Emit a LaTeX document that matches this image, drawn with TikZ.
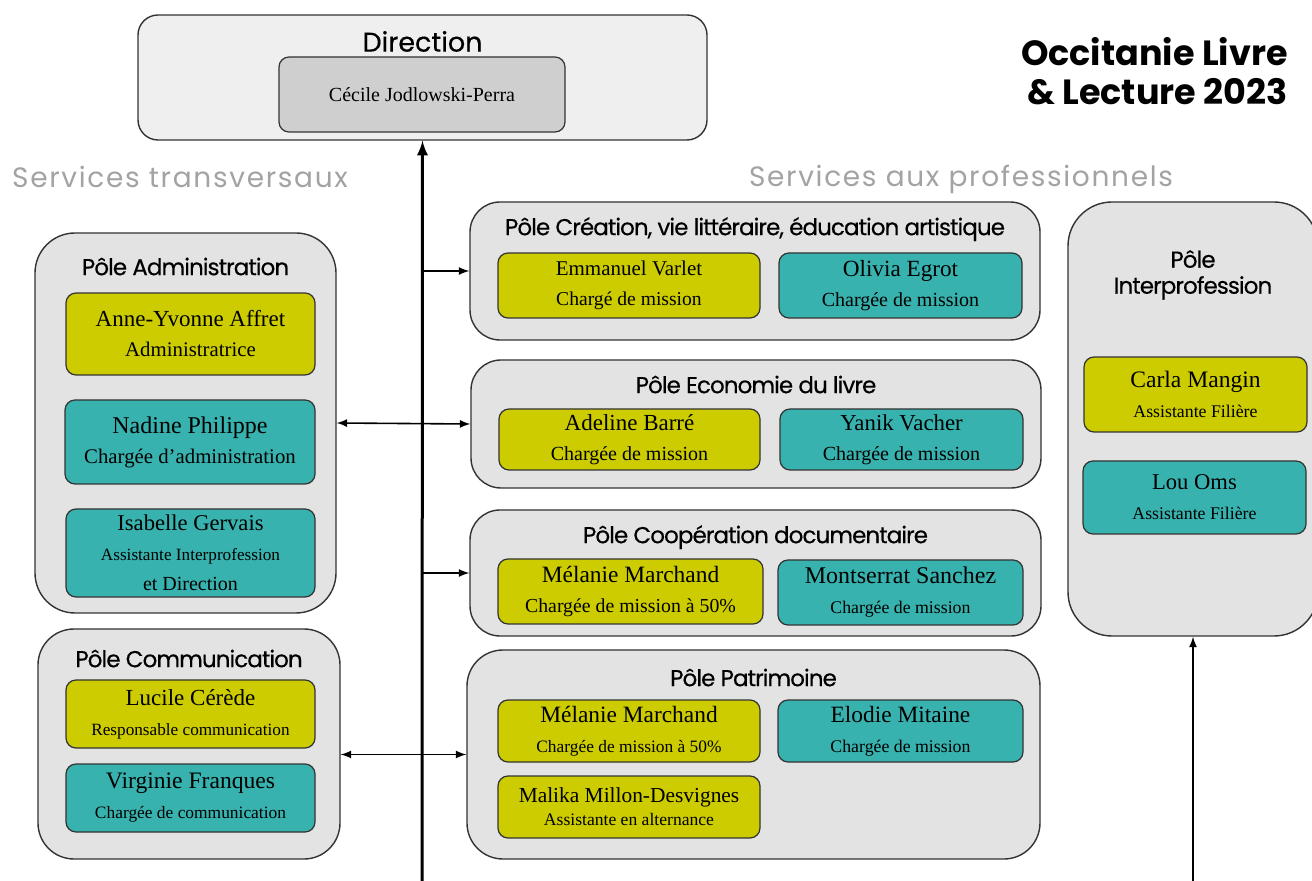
\documentclass[tikz,border=0pt]{standalone}
\usepackage{fontspec}
\setmainfont{Liberation Serif}
\newfontfamily\headfont[LetterSpace=-4, FakeBold=0.4]{Poppins}
\newfontfamily\dirfont[FakeBold=0.4]{Poppins}
\newfontfamily\servfont[LetterSpace=6]{Poppins}
\usetikzlibrary{calc}
\definecolor{jaune}{HTML}{CCCC00}
\definecolor{turquoise}{HTML}{38B2AE}
\definecolor{fond}{HTML}{E3E3E3}
\definecolor{fondclair}{HTML}{EFEFEF}
\definecolor{fondcecile}{HTML}{CFCFCF}
\definecolor{gristexte}{HTML}{A3A3A3}
\definecolor{bord}{HTML}{333333}
\def\who[#1:#2]#3#4{{\fontsize{#1}{15}\selectfont #3}\\\fontsize{#2}{15}\selectfont #4}
\tikzset{
	dims/.style 2 args={minimum width=#1*0.5pt, minimum height=#2*0.5pt},
	pole/.style={draw=bord, line width=0.7pt, fill=fond, rounded corners=#1, inner sep=0pt},
	persj/.style={draw=bord, line width=0.6pt, fill=jaune, rounded corners=5pt, inner sep=0pt, align=center, font=\fontsize{10}{15}\selectfont},
	perst/.style={persj, fill=turquoise},
	titre/.style={font=\headfont\fontsize{11.5}{13}\selectfont, text height=8.2pt, text depth=0pt, inner sep=0pt},
	services/.style={font=\servfont\fontsize{14}{16}\selectfont, text=gristexte, text height=10pt, text depth=0pt, inner sep=0pt},
	lien/.style={line width=0.8pt, -latex},
	tronc/.style={line width=1.5pt, -latex}
}
\begin{document}
\begin{tikzpicture}[x=0.5pt,y=-0.5pt]
			%%%%% START %%%%%
			\useasboundingbox (0,0) rectangle (1312,881);
			\fill[white] (0,0) rectangle (1312,881);
			\clip (0,0) rectangle (1312,881);
			
			% direction
			\node[pole=10pt, fill=fondclair, dims={569}{125}] (dir) at (422.5,77.5) {};
			\node[titre, font=\dirfont\fontsize{13.5}{15}\selectfont, text height=9.6pt] (dir-t) at (422.5,42) {Direction};
			\node[persj, fill=fondcecile, dims={286}{75}, font=\fontsize{10}{12}\selectfont] (cecile) at (422,94.5) {Cécile Jodlowski-Perra};
			
			\node[anchor=east, align=right, inner sep=0pt, font=\fontspec{Poppins}\bfseries\fontsize{17.5}{19.5}\selectfont] (titre) at (1288,71) {Occitanie Livre\\\& Lecture 2023};
			
			\node[services] (trans) at (180,178) {Services transversaux};
			\node[services] (pros) at (961,177) {Services aux professionnels};
			
			% services transversaux
			\node[pole=20pt, dims={301}{380}] (admin) at (185.5,423) {};
			\node[titre] (admin-t) at (185.5,267) {Pôle Administration};
			\node[persj, dims={249}{82}] (affret) at (190.5,334) {\who[11.5:10.4]{Anne-Yvonne Affret}{Administratrice}};
			\node[perst, dims={250}{84}] (philippe) at (190,442) {\who[12:10.4]{Nadine Philippe}{Chargée d’administration}};
			\node[perst, dims={249}{88}] (gervais) at (190.5,553) {\who[11.3:8.6]{Isabelle Gervais}{Assistante Interprofession\\et Direction}};
			
			\node[pole=18pt, dims={302}{230}] (comm) at (189,744) {};
			\node[titre] (comm-t) at (189,659) {Pôle Communication};
			\node[persj, dims={249}{68}] (cerede) at (190.5,714) {\who[11.5:8.6]{Lucile Cérède}{Responsable communication}};
			\node[perst, dims={249}{68}] (franques) at (190.5,798) {\who[11.8:8.7]{Virginie Franques}{Chargée de communication}};
			
			% services aux professionnels
			\node[pole=15pt, dims={570}{138}] (crea) at (755,271) {};
			\node[titre] (crea-t) at (755,227) {Pôle Création, vie littéraire, éducation artistique};
			\node[persj, dims={262}{65}] (varlet) at (629,285.5) {\who[10.5:9.8]{Emmanuel Varlet}{Chargé de mission}};
			\node[perst, dims={243}{65}] (egrot) at (900.5,285.5) {\who[11.6:10]{Olivia Egrot}{Chargée de mission}};
			
			\node[pole=15pt, dims={570}{128}] (eco) at (756,424) {};
			\node[titre] (eco-t) at (756,385) {Pôle Economie du livre};
			\node[persj, dims={261}{61}] (barre) at (629.5,439.5) {\who[11.5:10]{Adeline Barré}{Chargée de mission}};
			\node[perst, dims={243}{61}] (vacher) at (901.5,439.5) {\who[11.4:10]{Yanik Vacher}{Chargée de mission}};
			
			\node[pole=15pt, dims={571}{126}] (coop) at (755.5,573) {};
			\node[titre] (coop-t) at (755.5,535) {Pôle Coopération documentaire};
			\node[persj, dims={265}{65}] (marchand1) at (630.5,591.5) {\who[11.7:9.9]{Mélanie Marchand}{Chargée de mission à 50\%}};
			\node[perst, dims={245}{65}] (sanchez) at (900.5,592.5) {\who[12:8.9]{Montserrat Sanchez}{Chargée de mission}};
			
			\node[pole=18pt, dims={573}{209}] (patri) at (753.5,754.5) {};
			\node[titre] (patri-t) at (753.5,678) {Pôle Patrimoine};
			\node[persj, dims={262}{62}] (marchand2) at (629,731) {\who[11.7:8.7]{Mélanie Marchand}{Chargée de mission à 50\%}};
			\node[perst, dims={245}{62}] (mitaine) at (900.5,731) {\who[11.7:8.9]{Elodie Mitaine}{Chargée de mission}};
			\node[persj, dims={262}{62}, font=\fontsize{10}{11.5}\selectfont] (millon) at (629,807) {\who[10.7:8.8]{Malika Millon-Desvignes}{Assistante en alternance}};
			
			\node[pole=22pt, dims={250}{434}] (inter) at (1193,419) {};
			\node[titre, align=center, text height=, text depth=] (inter-t) at (1193,275) {Pôle\\Interprofession};
			\node[persj, dims={223}{75}] (mangin) at (1195.5,394.5) {\who[11.8:8.9]{Carla Mangin}{Assistante Filière}};
			\node[perst, dims={223}{73}] (oms) at (1194.5,497.5) {\who[11.3:8.9]{Lou Oms}{Assistante Filière}};
			
			% liens
			\coordinate (bas) at (422,881);
			\coordinate (bas-i) at (1193,881);
			\draw[tronc] (bas) -- (dir.south);
			\draw[lien] (bas |- crea.west) -- (crea.west);
			\draw[lien, latex-latex] (admin.east) -- (eco.west);
			\draw[lien] (bas |- coop.west) -- (coop.west);
			\draw[lien, latex-latex] (patri.west -| comm.east) -- (patri.west);
			\draw[lien] (bas-i) -- (inter.south);
			
			%%%%% END %%%%%
\end{tikzpicture}
\end{document}
